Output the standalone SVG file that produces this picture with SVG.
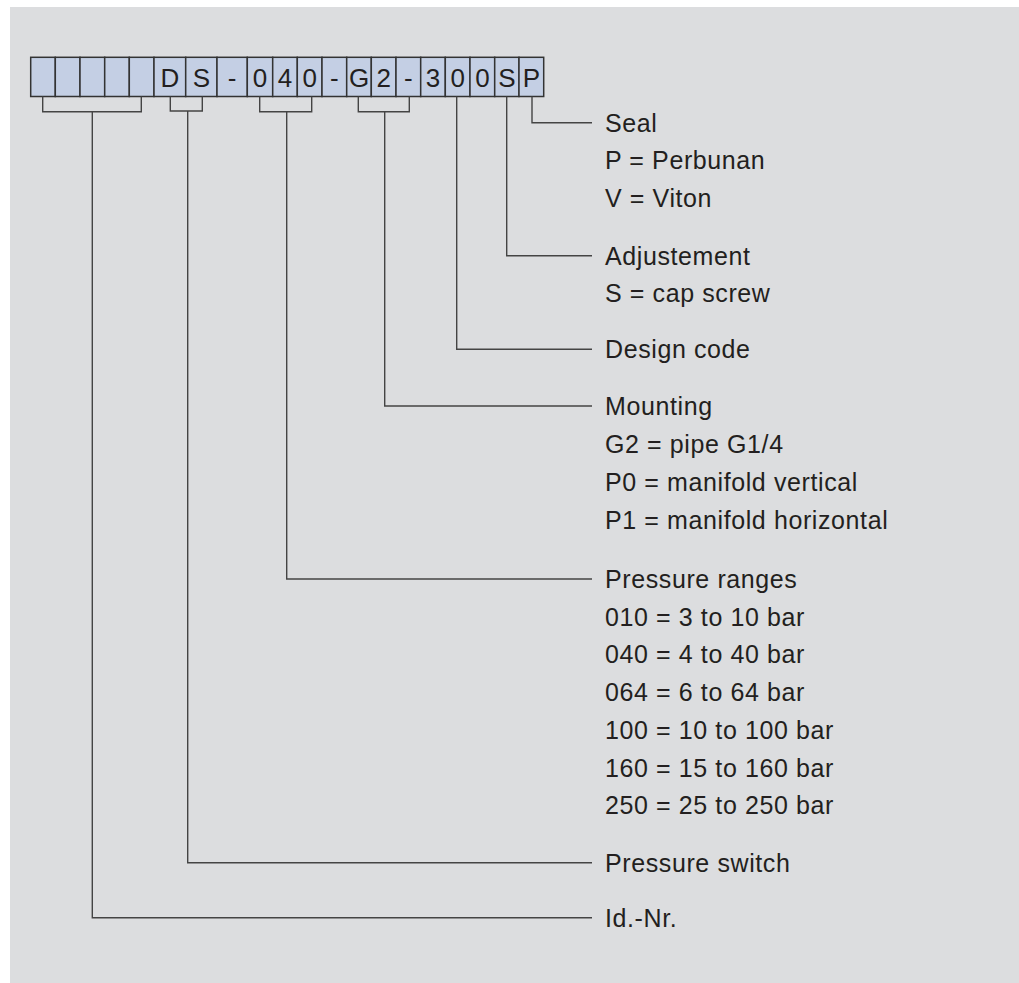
<svg xmlns="http://www.w3.org/2000/svg" width="1019" height="983" viewBox="0 0 1019 983">
<style>
.cell{fill:#c4cfe4;stroke:#333;stroke-width:1.5}
.ct{font-family:"Liberation Sans",Arial,sans-serif;font-size:26px;fill:#231f20;text-anchor:middle}
.lb{font-family:"Liberation Sans",Arial,sans-serif;font-size:25px;letter-spacing:0.6px;fill:#231f20}
.cn{fill:none;stroke:#444;stroke-width:1.4}
</style>
<rect x="0" y="0" width="1019" height="983" fill="#ffffff"/>
<rect x="10" y="7" width="1009" height="976" fill="#dcdddf"/>
<g id="code">
<rect class="cell" x="30.7" y="57.3" width="24.6" height="39.2"/>
<rect class="cell" x="55.3" y="57.3" width="24.7" height="39.2"/>
<rect class="cell" x="80" y="57.3" width="24.7" height="39.2"/>
<rect class="cell" x="104.7" y="57.3" width="24.6" height="39.2"/>
<rect class="cell" x="129.3" y="57.3" width="24.7" height="39.2"/>
<rect class="cell" x="154" y="57.3" width="31.7" height="39.2"/>
<rect class="cell" x="185.7" y="57.3" width="31.3" height="39.2"/>
<rect class="cell" x="217" y="57.3" width="30.3" height="39.2"/>
<rect class="cell" x="247.3" y="57.3" width="25.4" height="39.2"/>
<rect class="cell" x="272.7" y="57.3" width="24.6" height="39.2"/>
<rect class="cell" x="297.3" y="57.3" width="24.7" height="39.2"/>
<rect class="cell" x="322" y="57.3" width="24.7" height="39.2"/>
<rect class="cell" x="346.7" y="57.3" width="24.6" height="39.2"/>
<rect class="cell" x="371.3" y="57.3" width="24.7" height="39.2"/>
<rect class="cell" x="396" y="57.3" width="24.7" height="39.2"/>
<rect class="cell" x="420.7" y="57.3" width="24.6" height="39.2"/>
<rect class="cell" x="445.3" y="57.3" width="24.7" height="39.2"/>
<rect class="cell" x="470" y="57.3" width="24.7" height="39.2"/>
<rect class="cell" x="494.7" y="57.3" width="24.3" height="39.2"/>
<rect class="cell" x="519" y="57.3" width="24.7" height="39.2"/>
<text class="ct" x="169.9" y="86.8">D</text>
<text class="ct" x="201.4" y="86.8">S</text>
<text class="ct" x="232.2" y="86.8">-</text>
<text class="ct" x="260" y="86.8">0</text>
<text class="ct" x="285" y="86.8">4</text>
<text class="ct" x="309.7" y="86.8">0</text>
<text class="ct" x="334.4" y="86.8">-</text>
<text class="ct" x="359" y="86.8">G</text>
<text class="ct" x="383.7" y="86.8">2</text>
<text class="ct" x="408.4" y="86.8">-</text>
<text class="ct" x="433" y="86.8">3</text>
<text class="ct" x="457.7" y="86.8">0</text>
<text class="ct" x="482.4" y="86.8">0</text>
<text class="ct" x="506.9" y="86.8">S</text>
<text class="ct" x="531.4" y="86.8">P</text>
</g>
<g id="connectors">
<path class="cn" d="M42.7,96.5 V111.7 H141.3 V96.5 M92.3,111.7 V917.7 H592"/>
<path class="cn" d="M170.3,96.5 V111 H202.3 V96.5 M187.7,111 V862.7 H592"/>
<path class="cn" d="M259.7,96.5 V111.7 H311.7 V96.5 M286.7,111.7 V579 H592"/>
<path class="cn" d="M358.3,96.5 V111.7 H409.3 V96.5 M384.7,111.7 V406 H592"/>
<path class="cn" d="M456.7,96.5 V349.3 H592"/>
<path class="cn" d="M506.7,96.5 V255.7 H592"/>
<path class="cn" d="M532,96.5 V122.7 H592"/>
</g>
<g id="seal">
<text class="lb" x="605" y="131.7">Seal</text>
<text class="lb" x="605" y="169.4">P = Perbunan</text>
<text class="lb" x="605" y="207.1">V = Viton</text>
</g>
<g id="adjustement">
<text class="lb" x="605" y="264.7">Adjustement</text>
<text class="lb" x="605" y="302.4">S = cap screw</text>
</g>
<g id="design-code">
<text class="lb" x="605" y="358.3">Design code</text>
</g>
<g id="mounting">
<text class="lb" x="605" y="415">Mounting</text>
<text class="lb" x="605" y="452.9">G2 = pipe G1/4</text>
<text class="lb" x="605" y="490.8">P0 = manifold vertical</text>
<text class="lb" x="605" y="528.7">P1 = manifold horizontal</text>
</g>
<g id="pressure-ranges">
<text class="lb" x="605" y="588">Pressure ranges</text>
<text class="lb" x="605" y="625.7">010 = 3 to 10 bar</text>
<text class="lb" x="605" y="663.4">040 = 4 to 40 bar</text>
<text class="lb" x="605" y="701.1">064 = 6 to 64 bar</text>
<text class="lb" x="605" y="738.8">100 = 10 to 100 bar</text>
<text class="lb" x="605" y="776.5">160 = 15 to 160 bar</text>
<text class="lb" x="605" y="814.2">250 = 25 to 250 bar</text>
</g>
<g id="pressure-switch">
<text class="lb" x="605" y="871.7">Pressure switch</text>
</g>
<g id="id-nr">
<text class="lb" x="605" y="926.7">Id.-Nr.</text>
</g>
</svg>
